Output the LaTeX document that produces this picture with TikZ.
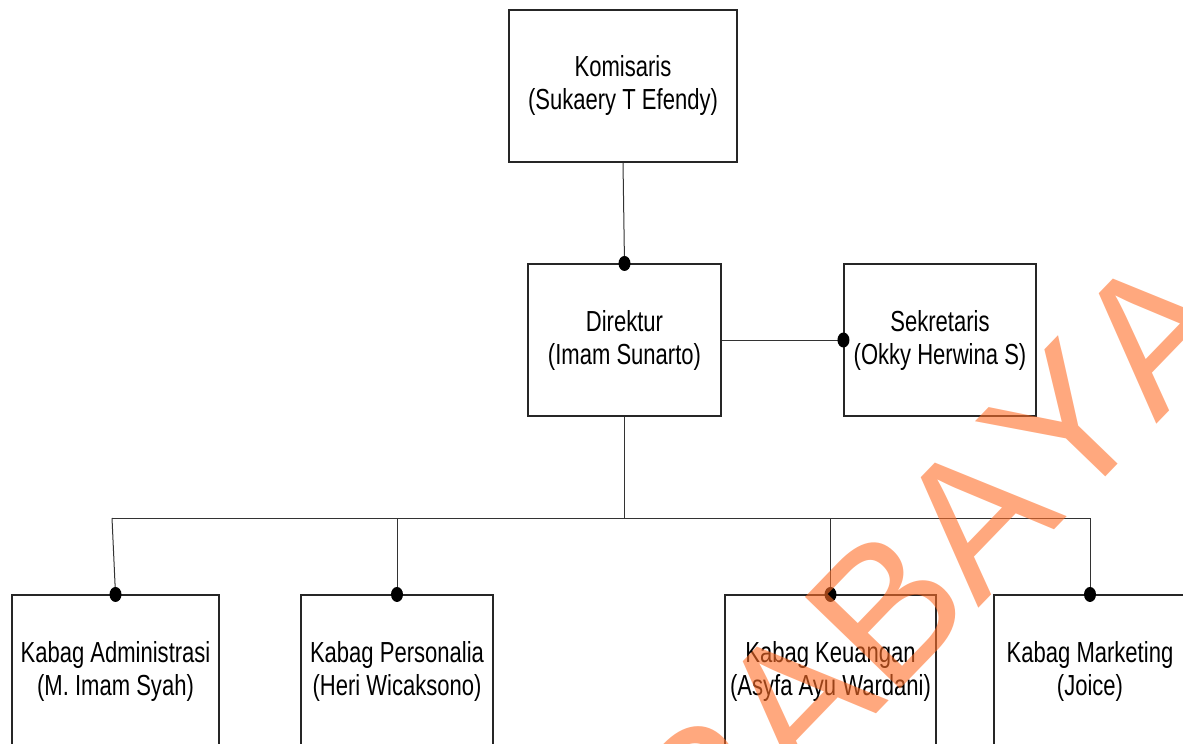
\documentclass[tikz,border=0pt]{standalone}
\usepackage{fontspec}
\setmainfont[FakeStretch=0.76]{Liberation Sans}
\newfontfamily\wmfont[Kerning=Off]{Liberation Sans}
\usepackage{tikz}
\usetikzlibrary{shapes.geometric, positioning}
\definecolor{wmorange}{RGB}{255,110,40}

\begin{document}
\begin{tikzpicture}[
    x=0.5pt, y=-0.5pt,
    unit/.style={rectangle, draw=black!85, line width=0.55pt, minimum height=76pt, align=center, inner sep=0pt,
        font=\fontsize{14.5}{16.5}\selectfont, execute at begin node={\rule{0pt}{13.4pt}}},
    link/.style={draw=black!80, line width=0.5pt},
    dot/.style={ellipse, fill=black, inner sep=0pt, minimum width=6pt, minimum height=7.5pt},
    wmark/.style={font=\wmfont\fontsize{96}{96}\selectfont, text=wmorange, text opacity=0.6, inner sep=0pt}
]
    \useasboundingbox (0,0) rectangle (1183,744);
    \clip (0,0) rectangle (1183,744);

    % Top level
    \node[unit, minimum width=114pt] (kom) at (623, 86) {Komisaris\\(Sukaery T Efendy)};
    \node[unit, minimum width=96.5pt] (dir) at (624.5, 340) {Direktur\\(Imam Sunarto)};
    \node[unit, minimum width=96pt] (sek) at (940, 340) {Sekretaris\\(Okky Herwina S)};

    % Kepala bagian
    \node[unit, minimum width=103.5pt] (adm) at (115.5, 671) {Kabag Administrasi\\(M. Imam Syah)};
    \node[unit, minimum width=96pt] (per) at (397, 671) {Kabag Personalia\\(Heri Wicaksono)};
    \node[unit, minimum width=105.5pt] (keu) at (830.5, 671) {Kabag Keuangan\\(Asyfa Ayu Wardani)};
    \node[unit, minimum width=96pt] (mkt) at (1090, 671) {Kabag Marketing\\(Joice)};

    % Garis hubungan
    \draw[link] (kom.south) -- (dir.north) node[dot] {};
    \draw[link] (dir.east) -- (sek.west) node[dot] {};

    \coordinate (busL) at (112, 518);
    \coordinate (busR) at (1090, 518);
    \draw[link] (busL) -- (busR);
    \draw[link] (dir.south) -- (dir.south |- busL);
    \draw[link] (busL) -- (adm.north) node[dot] {};
    \draw[link] (per.north |- busL) -- (per.north) node[dot] {};
    \draw[link] (keu.north |- busL) -- (keu.north) node[dot] {};
    \draw[link] (busR) -- (mkt.north) node[dot] {};

    % Watermark
    \node[wmark, anchor=base east, rotate=46] (wm) at (1246, 332) {SURABAYA};
\end{tikzpicture}
\end{document}
